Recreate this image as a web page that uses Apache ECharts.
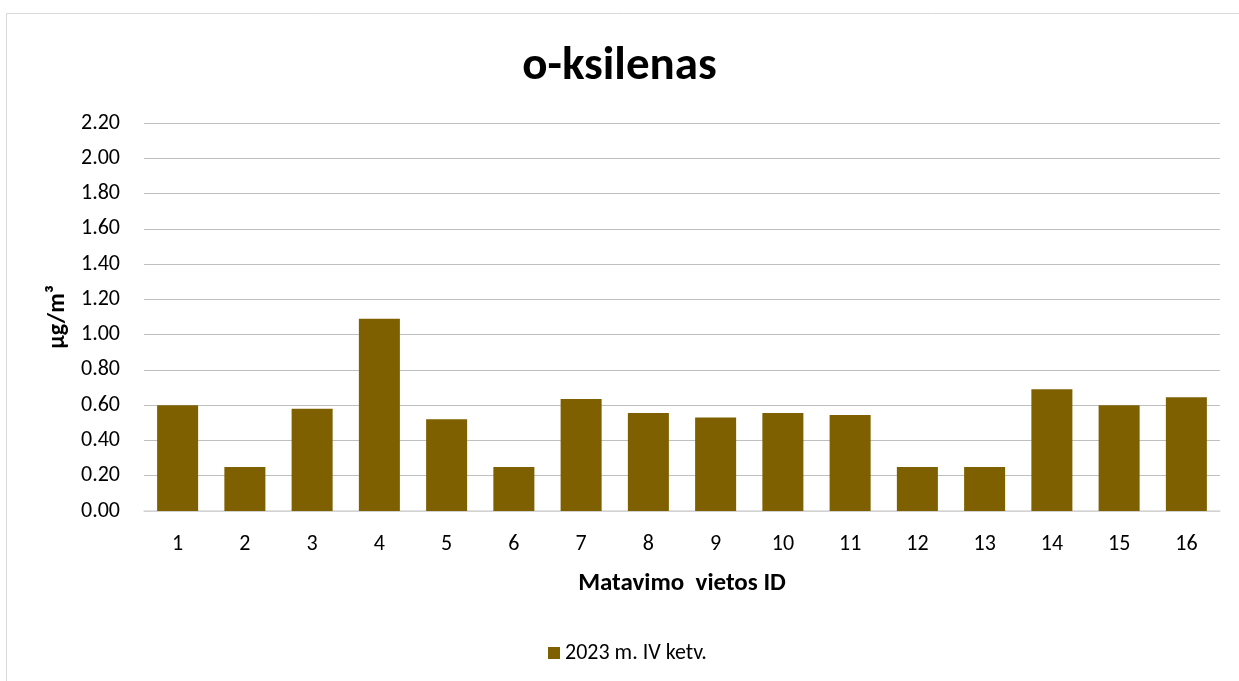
<!DOCTYPE html>
<html>
<head>
<meta charset="utf-8">
<title>o-ksilenas</title>
<script src="https://cdn.jsdelivr.net/npm/echarts@6/dist/echarts.min.js"></script>
<style>
  html, body { margin: 0; padding: 0; background: #fff; }
  #chart { width: 1239px; height: 681px; }
</style>
</head>
<body>
<div id="chart"></div>
<script>
// data
const categories = ['1', '2', '3', '4', '5', '6', '7', '8', '9', '10', '11', '12', '13', '14', '15', '16']
const values = [0.60, 0.25, 0.58, 1.09, 0.52, 0.25, 0.635, 0.555, 0.53, 0.555, 0.545, 0.25, 0.25, 0.69, 0.60, 0.645]
const seriesName = '2023 m. IV ketv.'
const titleText = 'o-ksilenas'
const xName = 'Matavimo  vietos ID'
const yName = 'µg/m³'

const font = 'Carlito, Lato, "Open Sans", sans-serif'
const chart = echarts.init(document.getElementById('chart'))

const option = {
  backgroundColor: '#fff',
  textStyle: { fontFamily: font },
  graphic: [{
    type: 'rect',
    shape: { x: 6.5, y: 13.5, width: 1260, height: 700 },
    style: { fill: 'none', stroke: '#d9d9d9', lineWidth: 1 },
    silent: true
  }],
  title: {
    text: titleText,
    left: 'center',
    top: 39,
    textStyle: { fontFamily: font, fontSize: 47, fontWeight: 'bold', color: '#000' }
  },
  legend: {
    left: 543,
    top: 637,
    itemWidth: 12,
    itemHeight: 12,
    itemGap: 10,
    icon: 'rect',
    textStyle: { fontFamily: font, fontSize: 22, color: '#000', padding: [0, 0, 0, 0] },
    data: [seriesName]
  },
  grid: {
    left: 144,
    right: 19,
    top: 123,
    bottom: 170,
    containLabel: false
  },
  xAxis: {
    type: 'category',
    data: categories,
    name: xName,
    nameLocation: 'middle',
    nameGap: 60,
    nameTextStyle: { fontFamily: font, fontSize: 25, fontWeight: 'bold', color: '#000' },
    axisLine: { // 轴线
      show: true,
      lineStyle: { color: '#d9d9d9', width: 1.5 }
    },
    axisTick: { show: false },
    axisLabel: { color: '#000', fontSize: 22, margin: 22, fontFamily: font }
  },
  yAxis: {
    type: 'value',
    min: 0,
    max: 2.2,
    interval: 0.2,
    name: yName,
    nameLocation: 'middle',
    nameGap: 74,
    nameTextStyle: { fontFamily: font, fontSize: 24, fontWeight: 'bold', color: '#000' },
    axisLine: { show: false },
    axisTick: { show: false },
    axisLabel: {
      color: '#000',
      fontSize: 22,
      margin: 24,
      fontFamily: font,
      formatter: v => v.toFixed(2)
    },
    splitLine: { // 分割线
      show: true,
      lineStyle: { color: '#bfbfbf', width: 1 }
    }
  },
  series: [{
    name: seriesName,
    type: 'bar',
    data: values,
    barCategoryGap: '39%',
    itemStyle: { color: '#7f6000' },
    animation: false
  }]
}

chart.setOption(option)
</script>
</body>
</html>
